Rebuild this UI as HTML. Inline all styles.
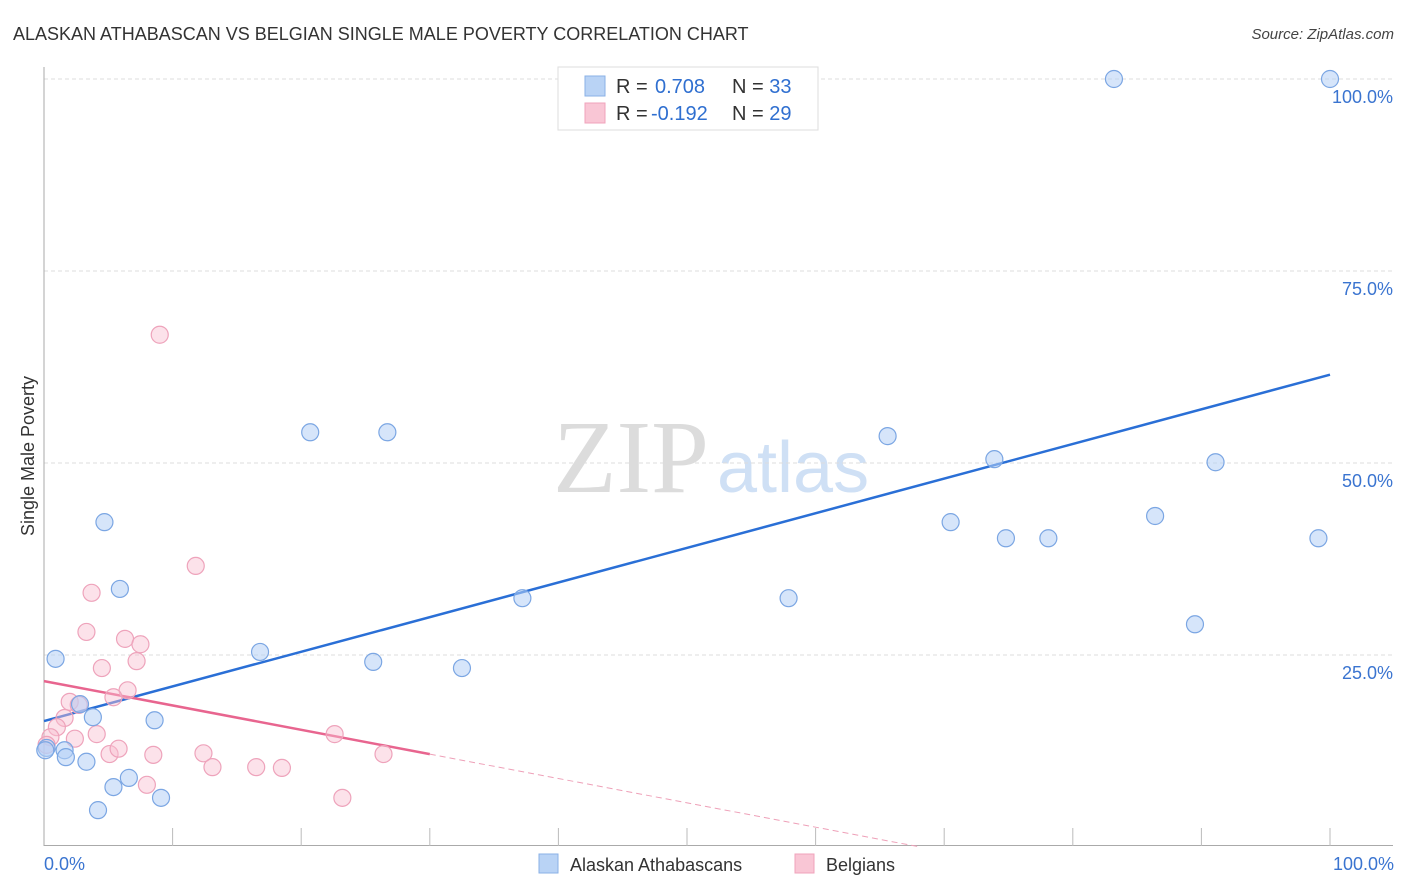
<!DOCTYPE html>
<html><head><meta charset="utf-8"><style>
html,body{margin:0;padding:0;background:#fff;width:1406px;height:892px;overflow:hidden;font-family:"Liberation Sans",sans-serif;}
</style></head><body>
<svg id="chart" width="1406" height="892" xmlns="http://www.w3.org/2000/svg" style="position:absolute;left:0;top:0">
<text x="13" y="40" font-size="18" fill="#333" font-family="Liberation Sans, sans-serif">ALASKAN ATHABASCAN VS BELGIAN SINGLE MALE POVERTY CORRELATION CHART</text>
<text x="1394" y="39" font-size="15" fill="#444" font-style="italic" text-anchor="end">Source: ZipAtlas.com</text>
<g>
<text x="553" y="492" font-size="104" fill="#dcdcdc" font-family="Liberation Serif, serif">ZIP</text>
<text x="717" y="492" font-size="72" fill="#cfe0f5" font-family="Liberation Sans, sans-serif">atlas</text>
</g>
<g id="grid"></g>
<g id="axes"></g>
<g id="lines"></g>
<g id="points"></g>
<text transform="translate(34,456) rotate(-90)" font-size="18" fill="#333" text-anchor="middle">Single Male Poverty</text>
<text x="44" y="870" font-size="18" fill="#3a74d0">0.0%</text>
<text x="1394" y="870" font-size="18" fill="#3a74d0" text-anchor="end">100.0%</text>
<g>
<rect x="558" y="67" width="260" height="63" fill="#fff" stroke="#ddd"/>
<rect x="585" y="76" width="20" height="20" fill="#b9d3f5" stroke="#8ab0e6"/>
<rect x="585" y="103" width="20" height="20" fill="#f9c6d5" stroke="#f0a3bb"/>
<text x="616" y="93" font-size="20" fill="#333">R = <tspan fill="#2f6fd0" x="655">0.708</tspan><tspan x="732">N = </tspan><tspan fill="#2f6fd0">33</tspan></text>
<text x="616" y="120" font-size="20" fill="#333">R = <tspan fill="#2f6fd0" x="651">-0.192</tspan><tspan x="732">N = </tspan><tspan fill="#2f6fd0">29</tspan></text>
</g>
<g>
<rect x="539" y="854" width="19" height="19" fill="#b9d3f5" stroke="#8ab0e6"/>
<text x="570" y="871" font-size="18" fill="#333">Alaskan Athabascans</text>
<rect x="795" y="854" width="19" height="19" fill="#f9c6d5" stroke="#f0a3bb"/>
<text x="826" y="871" font-size="18" fill="#333">Belgians</text>
</g>
</svg>
<script>
const blueX=[83.2,100,20.7,26.7,65.6,73.9,91.1,4.7,70.5,86.4,74.8,78.1,99.1,5.9,37.2,57.9,89.5,0.9,16.8,25.6,32.5,2.8,3.8,8.6,0.2,1.6,1.7,3.3,6.6,5.4,9.1,4.2,0.1];
const blueY=[100,100,54.0,54.0,53.5,50.5,50.1,42.3,42.3,43.1,40.2,40.2,40.2,33.6,32.4,32.4,29.0,24.5,25.4,24.1,23.3,18.6,16.9,16.5,12.9,12.6,11.7,11.1,9.0,7.8,6.4,4.8,12.6];
const pinkX=[9.0,11.8,3.7,3.3,6.3,7.5,7.2,4.5,6.5,5.4,2.0,2.7,1.6,1.0,4.1,2.4,0.5,0.2,22.6,5.1,5.8,8.5,12.4,13.1,16.5,18.5,26.4,8.0,23.2];
const pinkY=[66.7,36.6,33.1,28.0,27.1,26.4,24.2,23.3,20.4,19.5,18.9,18.5,16.8,15.6,14.7,14.1,14.3,13.3,14.7,12.1,12.8,12.0,12.2,10.4,10.4,10.3,12.1,8.1,6.4];
const blueTrend=[16.4,61.5]; // y at x=0 and x=100
const pinkTrend=[21.6,-0.317]; // intercept, slope
const pinkSolidEnd=30;
const yTicks=[25,50,75,100];
const yTickLabels=["25.0%","50.0%","75.0%","100.0%"];
const xTicks=[10,20,30,40,50,60,70,80,90,100];

const X0=44,X1=1330,Y0=847,Y1=79;
const sx=v=>X0+(X1-X0)*v/100;
const sy=v=>Y0-(Y0-Y1)*v/100;
const NS="http://www.w3.org/2000/svg";
function mk(tag,attrs,parent){const e=document.createElementNS(NS,tag);for(const k in attrs)e.setAttribute(k,attrs[k]);document.getElementById(parent).appendChild(e);return e;}

yTicks.forEach((t,i)=>{
  const g=mk('line',{x1:44,x2:1393,y1:sy(t),y2:sy(t),stroke:'#ddd','stroke-dasharray':'4,3'},'grid');
  
  
  const l=mk('text',{x:1393,y:sy(t)+24,'font-size':18,fill:'#3a74d0','text-anchor':'end'},'grid');
  l.textContent=yTickLabels[i];
  
  
});
let a=mk('line',{x1:44,x2:44,y1:67,y2:846,stroke:'#aaa'},'axes');


a=mk('line',{x1:44,x2:1393,y1:845.5,y2:845.5,stroke:'#aaa'},'axes');


xTicks.forEach(t=>{
  const e=mk('line',{x1:sx(t),x2:sx(t),y1:828,y2:846,stroke:'#bbb'},'axes');
  
  
});

let tl=mk('line',{x1:sx(0),y1:sy(blueTrend[0]),x2:sx(100),y2:sy(blueTrend[1]),stroke:'#2a6fd6','stroke-width':2.5},'lines');


const pe=pinkTrend[0]+pinkTrend[1]*pinkSolidEnd;
tl=mk('line',{x1:sx(0),y1:sy(pinkTrend[0]),x2:sx(pinkSolidEnd),y2:sy(pe),stroke:'#e8658f','stroke-width':2.5},'lines');


const xz=-pinkTrend[0]/pinkTrend[1];
tl=mk('line',{x1:sx(pinkSolidEnd),y1:sy(pe),x2:sx(xz),y2:sy(0),stroke:'#eea0b8','stroke-width':1,'stroke-dasharray':'6,4'},'lines');



pinkX.forEach((x,i)=>{
  const c=mk('circle',{cx:sx(x),cy:sy(pinkY[i]),r:8.5,fill:'rgba(248,190,208,0.45)',stroke:'#eea3bb','stroke-width':1.2},'points');
  
  
});
blueX.forEach((x,i)=>{
  const c=mk('circle',{cx:sx(x),cy:sy(blueY[i]),r:8.5,fill:'rgba(180,208,245,0.55)',stroke:'#7ba6e3','stroke-width':1.2},'points');
  
  
});
</script>
</body></html>
